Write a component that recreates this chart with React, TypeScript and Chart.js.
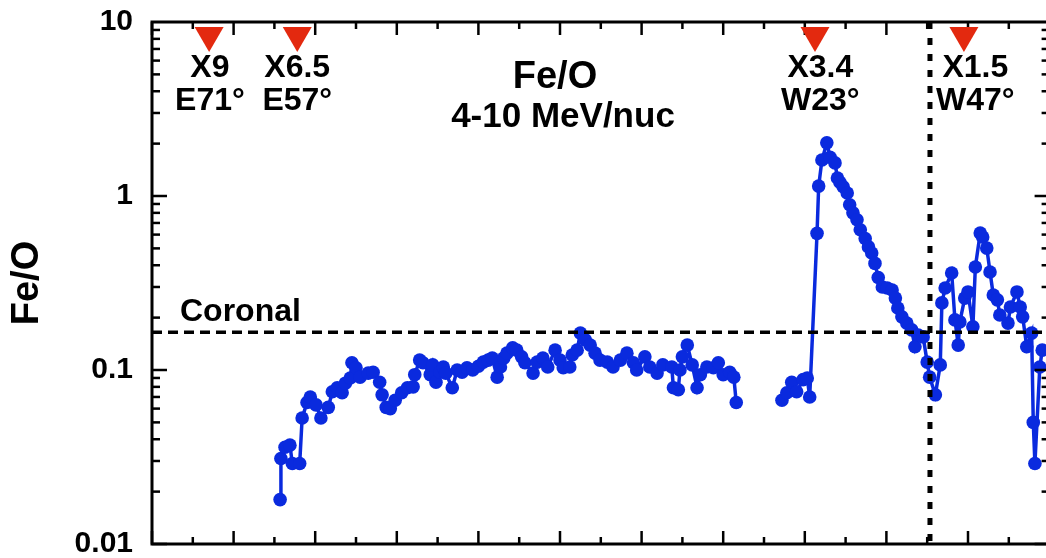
import React, { useEffect, useRef } from 'react';
import { Chart, registerables } from 'chart.js';

Chart.register(...registerables);

// ---- data (x = day of December 2006, y = Fe/O ratio) ----
const seg1Days = [
  6.57, 6.58, 6.63, 6.69, 6.72, 6.81, 6.84, 6.90, 6.94, 7.01,
  7.07, 7.16, 7.21, 7.27, 7.33, 7.37, 7.43, 7.45, 7.50, 7.55,
  7.65, 7.71, 7.79, 7.82, 7.87, 7.92, 7.98, 8.06, 8.13, 8.20,
  8.22, 8.28, 8.32, 8.41, 8.44, 8.48, 8.53, 8.57, 8.60, 8.68,
  8.74, 8.80, 8.86, 8.93, 9.00, 9.06, 9.12, 9.17, 9.23, 9.27,
  9.31, 9.35, 9.42, 9.47, 9.53, 9.57, 9.67, 9.72, 9.79, 9.85,
  9.94, 10.00, 10.04, 10.12, 10.15, 10.21, 10.25, 10.31, 10.37, 10.43,
  10.49, 10.58, 10.65, 10.74, 10.82, 10.90, 10.94, 11.04, 11.10, 11.19,
  11.26, 11.37, 11.39, 11.45, 11.47, 11.50, 11.56, 11.62, 11.68, 11.72,
  11.80, 11.88, 11.94, 12.00, 12.08, 12.13, 12.16,
];
const seg1FeO = [
  0.018, 0.031, 0.036, 0.037, 0.029, 0.029, 0.053, 0.065, 0.070, 0.063,
  0.053, 0.061, 0.075, 0.079, 0.074, 0.084, 0.090, 0.110, 0.103, 0.091,
  0.096, 0.097, 0.085, 0.072, 0.061, 0.060, 0.067, 0.074, 0.079, 0.080,
  0.094, 0.114, 0.110, 0.094, 0.107, 0.085, 0.097, 0.104, 0.096, 0.079,
  0.100, 0.097, 0.103, 0.100, 0.105, 0.111, 0.114, 0.117, 0.091, 0.104,
  0.117, 0.125, 0.134, 0.130, 0.119, 0.110, 0.096, 0.111, 0.117, 0.104,
  0.130, 0.114, 0.103, 0.104, 0.122, 0.130, 0.163, 0.149, 0.139, 0.125,
  0.114, 0.111, 0.104, 0.114, 0.125, 0.110, 0.100, 0.119, 0.104, 0.096,
  0.107, 0.104, 0.079, 0.077, 0.100, 0.119, 0.139, 0.107, 0.079, 0.094,
  0.104, 0.103, 0.110, 0.094, 0.097, 0.091, 0.065,
];
const gapDay = 12.45;
const seg2Days = [
  12.72, 12.78, 12.84, 12.90, 12.98, 13.03, 13.06, 13.15, 13.17, 13.21,
  13.27, 13.31, 13.37, 13.40, 13.43, 13.47, 13.52, 13.55, 13.59, 13.64,
  13.68, 13.74, 13.78, 13.82, 13.86, 13.90, 13.95, 14.01, 14.07, 14.11,
  14.14, 14.19, 14.25, 14.31, 14.35, 14.39, 14.45, 14.50, 14.53, 14.60,
  14.66, 14.68, 14.72, 14.80, 14.84, 14.88, 14.90, 14.96, 15.00, 15.06,
  15.09, 15.15, 15.18, 15.23, 15.27, 15.31, 15.36, 15.39, 15.49, 15.52,
  15.60, 15.64, 15.67, 15.72, 15.78, 15.80, 15.82, 15.88, 15.91,
];
const seg2FeO = [
  0.067, 0.074, 0.085, 0.075, 0.088, 0.090, 0.070, 0.61, 1.14, 1.61,
  2.02, 1.67, 1.55, 1.27, 1.20, 1.13, 1.04, 0.89, 0.80, 0.73,
  0.64, 0.57, 0.51, 0.47, 0.41, 0.34, 0.30, 0.296, 0.288, 0.259,
  0.227, 0.202, 0.186, 0.170, 0.136, 0.159, 0.155, 0.111, 0.091, 0.072,
  0.107, 0.243, 0.296, 0.361, 0.194, 0.139, 0.189, 0.259, 0.281, 0.177,
  0.391, 0.612, 0.581, 0.502, 0.366, 0.270, 0.253, 0.207, 0.186, 0.230,
  0.281, 0.230, 0.202, 0.136, 0.163, 0.050, 0.029, 0.104, 0.130,
];

const xMin = 5;
const xMax = 16;
const yTickValues = [0.01, 0.1, 1, 10];
const yTickLabels = ['0.01', '0.1', '1', '10'];
const coronalLevel = 0.165;
const shockDay = 14.534;

const flareNames = ['X9', 'X6.5', 'X3.4', 'X1.5'];
const flareLocations = ['E71°', 'E57°', 'W23°', 'W47°'];
const flareDays = [5.70, 6.78, 13.125, 14.95];
const flareLabelDays = [5.71, 6.78, 13.19, 15.09];

const BLUE = 'rgb(10,42,222)';
const RED = '#e3290f';
const FONT = '"Liberation Sans", Arial, Helvetica, sans-serif';

const W = 1060;
const H = 558;

const overlay = {
  id: 'overlay',
  afterDatasetsDraw(chart: any) {
    const { ctx, chartArea: a, scales } = chart;
    const x = scales.x;
    const y = scales.y;
    ctx.save();
    ctx.strokeStyle = '#000';
    ctx.lineCap = 'butt';

    // coronal dashed line
    const yc = y.getPixelForValue(coronalLevel);
    ctx.lineWidth = 3.5;
    ctx.setLineDash([10, 6]);
    ctx.beginPath();
    ctx.moveTo(a.left, yc);
    ctx.lineTo(a.right, yc);
    ctx.stroke();

    // vertical dotted line
    const xv = x.getPixelForValue(shockDay);
    ctx.lineWidth = 5;
    ctx.setLineDash([7, 9]);
    ctx.beginPath();
    ctx.moveTo(xv, a.top);
    ctx.lineTo(xv, a.bottom);
    ctx.stroke();
    ctx.setLineDash([]);

    // ticks
    ctx.lineWidth = 2.5;
    const seg = (x1: number, y1: number, x2: number, y2: number) => {
      ctx.beginPath();
      ctx.moveTo(x1, y1);
      ctx.lineTo(x2, y2);
      ctx.stroke();
    };
    const nHalf = Math.round((xMax - xMin) * 2);
    for (let i = 0; i <= nHalf; i++) {
      const px = x.getPixelForValue(xMin + i * 0.5);
      const len = i % 2 === 0 ? 13 : 7;
      seg(px, a.top, px, a.top + len);
      seg(px, a.bottom, px, a.bottom - len);
    }
    for (let e = -2; e < 1; e++) {
      for (let m = 1; m <= 9; m++) {
        const py = y.getPixelForValue(m * Math.pow(10, e));
        const len = m === 1 ? 15 : 8;
        seg(a.left, py, a.left + len, py);
        seg(a.right, py, a.right - len, py);
      }
    }

    // frame
    ctx.lineWidth = 3;
    ctx.strokeRect(a.left, a.top, a.right - a.left, a.bottom - a.top);

    // flare markers
    ctx.fillStyle = RED;
    flareDays.forEach((d) => {
      const px = x.getPixelForValue(d);
      ctx.beginPath();
      ctx.moveTo(px - 14.5, a.top + 5);
      ctx.lineTo(px + 14.5, a.top + 5);
      ctx.lineTo(px, a.top + 30);
      ctx.closePath();
      ctx.fill();
    });

    ctx.fillStyle = '#000';
    ctx.textAlign = 'center';
    ctx.textBaseline = 'alphabetic';
    ctx.font = `bold 32px ${FONT}`;
    flareLabelDays.forEach((d, i) => {
      const px = x.getPixelForValue(d);
      ctx.fillText(flareNames[i], px, a.top + 55);
      ctx.fillText(flareLocations[i], px, a.top + 88);
    });

    // panel title
    ctx.font = `bold 38px ${FONT}`;
    ctx.fillText('Fe/O', 555, a.top + 66);
    ctx.font = `bold 35px ${FONT}`;
    ctx.fillText('4-10 MeV/nuc', 563, a.top + 105);

    // coronal label
    ctx.textAlign = 'left';
    ctx.font = `bold 32px ${FONT}`;
    ctx.fillText('Coronal', a.left + 28, yc - 11);

    ctx.restore();
  },
};

export default function App() {
  const ref = useRef<HTMLCanvasElement | null>(null);

  useEffect(() => {
    if (!ref.current) return;
    const points: any[] = [];
    seg1Days.forEach((d, i) => points.push({ x: d, y: seg1FeO[i] }));
    points.push({ x: gapDay, y: null });
    seg2Days.forEach((d, i) => points.push({ x: d, y: seg2FeO[i] }));

    const chart = new Chart(ref.current, {
      type: 'line',
      data: {
        datasets: [
          {
            label: 'Fe/O',
            data: points,
            borderColor: BLUE,
            backgroundColor: BLUE,
            borderWidth: 3.5,
            pointRadius: 6.8,
            pointBorderWidth: 0,
            pointBackgroundColor: BLUE,
            pointHoverRadius: 6.8,
            spanGaps: false,
            tension: 0,
          },
        ],
      },
      options: {
        responsive: false,
        animation: false,
        devicePixelRatio: 1,
        events: [],
        layout: { padding: { left: 0, top: 22, right: W - 1049.6, bottom: 14 } },
        plugins: {
          legend: { display: false },
          tooltip: { enabled: false },
          title: { display: false },
        },
        scales: {
          x: {
            type: 'linear',
            min: xMin,
            max: xMax,
            display: false,
          },
          y: {
            type: 'logarithmic',
            min: 0.01,
            max: 10,
            grid: { display: false, drawTicks: false },
            border: { display: false },
            afterBuildTicks: (scale: any) => {
              scale.ticks = yTickValues.map((v) => ({ value: v }));
            },
            afterFit: (scale: any) => {
              scale.width = 152;
              scale.paddingTop = 0;
              scale.paddingBottom = 0;
            },
            ticks: {
              autoSkip: false,
              padding: 19,
              color: '#000',
              font: { family: FONT, size: 30, weight: 'bold' },
              callback: (v: any) => {
                const idx = yTickValues.findIndex((t) => Math.abs(t - Number(v)) < 1e-9);
                return idx >= 0 ? yTickLabels[idx] : '';
              },
            },
            title: {
              display: true,
              text: 'Fe/O',
              color: '#000',
              font: { family: FONT, size: 38, weight: 'bold' },
              padding: { top: 5, bottom: 0 },
            },
          },
        },
      },
      plugins: [overlay],
    } as any);

    return () => chart.destroy();
  }, []);

  return (
    <div style={{ position: 'fixed', left: 0, top: 0, width: 1046, height: H, overflow: 'hidden', background: '#fff' }}>
      <canvas ref={ref} width={W} height={H} style={{ display: 'block', width: W, height: H }} />
    </div>
  );
}
